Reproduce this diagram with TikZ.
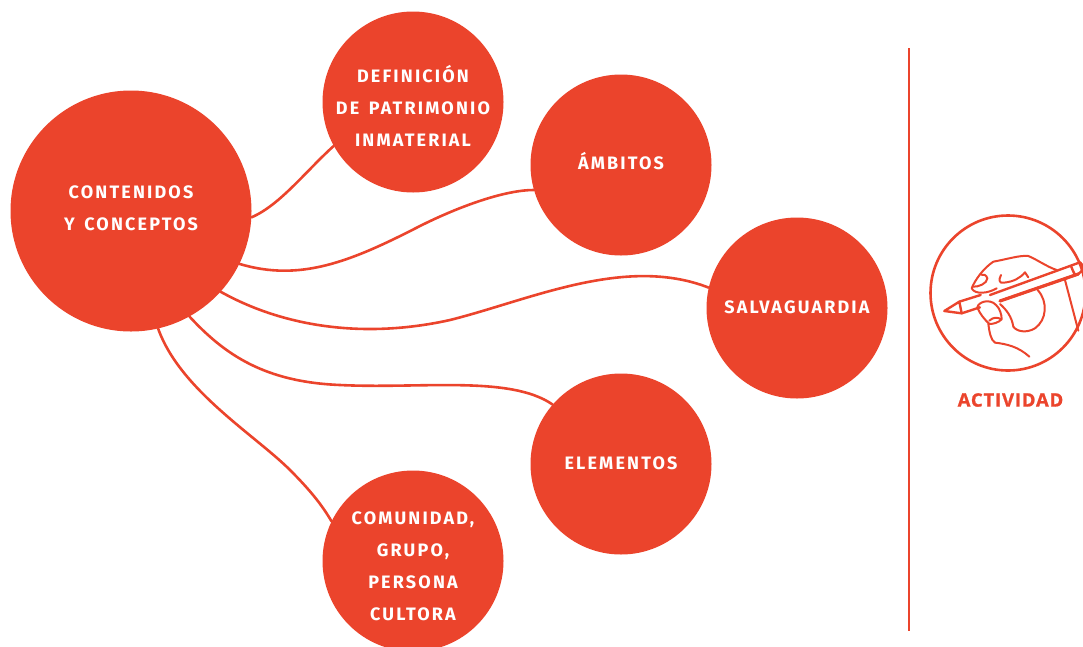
\documentclass[tikz,border=0pt]{standalone}
\usepackage{fontspec}
\setmainfont{Fira Sans}[LetterSpace=12,WordSpace=1.5,UprightFont=*,BoldFont=* Bold]
\newfontfamily\actfont{Open Sans}[LetterSpace=4.5,BoldFeatures={FakeBold=1.2}]
\definecolor{rojo}{HTML}{EB442C}
\newcommand{\alto}[1]{\rule{0pt}{#1pt}}
\newcommand{\bajo}[1]{\rule[-#1pt]{0pt}{#1pt}}
\tikzset{
  tema/.style={circle,fill=rojo,draw=none,inner sep=0pt,minimum size=181pt,text=white,align=center,font=\bfseries\fontsize{18}{32}\selectfont},
  enlace/.style={draw=rojo,line width=2.6pt,line cap=round},
  trazo/.style={draw=rojo,line width=2pt,line cap=round,line join=round},
}
\begin{document}
\begin{tikzpicture}[x=1pt,y=-1pt]
\useasboundingbox (0,0) rectangle (1083,646);
\node[tema,minimum size=241pt] (cc) at (131,211) {\alto{17}CONTENIDOS\\Y CONCEPTOS\bajo{10}};
\node[tema] (def) at (413,102) {\alto{27.4}DEFINICIÓN\\DE PATRIMONIO\\INMATERIAL\bajo{3}};
\node[tema] (amb) at (621,165) {\alto{20}ÁMBITOS\bajo{11.6}};
\node[tema] (sal) at (797,308) {\alto{20}SALVAGUARDIA\bajo{9.6}};
\node[tema] (ele) at (621,464) {\alto{22}ELEMENTOS\bajo{11.6}};
\node[tema] (com) at (413,561) {\alto{22.4}COMUNIDAD,\\GRUPO,\\PERSONA\\CULTORA\bajo{0}};
\draw[enlace] (cc.-3.3) .. controls (280,205) and (305,172) .. (def.209.4);
\draw[enlace] (cc.-26.4) .. controls (300,282) and (350,262) .. (420,226) .. controls (460,206) and (505,190) .. (amb.196.8);
\draw[enlace] (cc.-42.6) .. controls (280,325) and (360,340) .. (450,320) .. controls (530,300) and (625,255) .. (sal.167.3);
\draw[enlace] (cc.-61.7) .. controls (225,355) and (265,382) .. (340,385) .. controls (420,389) and (510,375) .. (ele.139);
\draw[enlace] (cc.-77.5) .. controls (180,390) and (255,435) .. (290,470) .. controls (310,490) and (322,505) .. (com.154.6);
\coordinate (sep1) at (909,48);
\coordinate (sep2) at (909,631);
\draw[enlace,line width=2.8pt,line cap=butt] (sep1) -- (sep2);
\node[circle,draw=rojo,line width=2.6pt,minimum size=155pt,inner sep=0pt] (ico) at (1008,293) {};
\node[text=rojo,font=\actfont\bfseries\fontsize{18.5}{20}\selectfont] (act) at (1010.5,400) {ACTIVIDAD};
\begin{scope}[shift={(900,200)},x=0.3333pt,y=-0.3333pt]
  % pencil
  \draw[trazo,line width=2.4pt] (178,305) -- (133,333) -- (185,340) -- cycle;
  \draw[trazo,line width=2.4pt] (178,305) -- (242,285);
  \draw[trazo,line width=2.4pt] (185,340) -- (240,322);
  \draw[trazo,line width=2.4pt] (270,285) -- (540,187) .. controls (552,195) and (552,212) .. (535,222) -- (300,303);
  \draw[trazo,line width=3.2pt] (300,303) -- (535,222);
  \draw[trazo,line width=2.4pt] (513,198) .. controls (518,208) and (520,220) .. (528,226);
  % upper finger
  \draw[trazo] (290,265) .. controls (265,280) and (225,285) .. (215,265)
     .. controls (225,240) and (250,205) .. (280,185)
     .. controls (320,178) and (360,165) .. (385,168)
     .. controls (410,178) and (440,200) .. (470,210);
  \draw[trazo] (218,260) .. controls (235,262) and (262,250) .. (262,235) .. controls (260,225) and (250,222) .. (243,224);
  \draw[trazo] (303,225) .. controls (295,240) and (298,252) .. (312,248) .. controls (340,245) and (360,235) .. (375,217) -- (385,232);
  % palm and back of the hand
  \draw[trazo] (495,240) -- (535,392);
  \draw[trazo] (413,270) .. controls (445,305) and (440,360) .. (405,385)
     .. controls (380,400) and (350,395) .. (340,380)
     .. controls (335,350) and (320,330) .. (300,312);
  % lower finger
  \draw[trazo] (232,322) .. controls (235,305) and (270,295) .. (288,315)
     .. controls (300,325) and (305,345) .. (305,358)
     .. controls (295,368) and (280,372) .. (268,372)
     .. controls (255,360) and (238,340) .. (232,322);
  \draw[trazo] (268,362) .. controls (280,350) and (295,352) .. (303,358);
  \draw[trazo] (265,372) .. controls (268,395) and (272,420) .. (285,428)
     .. controls (320,432) and (355,440) .. (388,470);
\end{scope}
\end{tikzpicture}
\end{document}
